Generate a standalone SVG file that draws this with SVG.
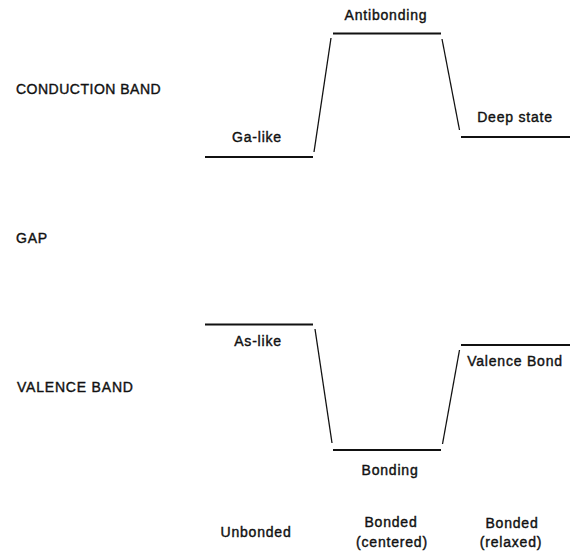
<svg xmlns="http://www.w3.org/2000/svg" width="573" height="553" viewBox="0 0 573 553">
<style>
text{font-family:"Liberation Sans",Arial,sans-serif;font-size:14px;fill:#111;stroke:#111;stroke-width:0.4;letter-spacing:0.8px}
.c{text-anchor:middle}
.lvl{stroke:#111;stroke-width:2;fill:none}
.con{stroke:#111;stroke-width:1.3;fill:none}
</style>
<rect width="573" height="553" fill="#fff"/>
<g id="band-labels">
<text x="16" y="94" style="letter-spacing:0.5px">CONDUCTION BAND</text>
<text x="16" y="243">GAP</text>
<text x="17" y="392">VALENCE BAND</text>
</g>
<g id="ga-like"><line class="lvl" x1="205" y1="157" x2="313" y2="157"/><text class="c" x="257" y="142">Ga-like</text></g>
<g id="antibonding"><line class="lvl" x1="333" y1="33.5" x2="441" y2="33.5"/><text class="c" x="386" y="20">Antibonding</text></g>
<g id="deep-state"><line class="lvl" x1="461" y1="137" x2="570" y2="137"/><text class="c" x="515" y="122">Deep state</text></g>
<g id="as-like"><line class="lvl" x1="205" y1="324.5" x2="313" y2="324.5"/><text class="c" x="258" y="346">As-like</text></g>
<g id="bonding"><line class="lvl" x1="333" y1="450" x2="441" y2="450"/><text class="c" x="390" y="475">Bonding</text></g>
<g id="valence-bond"><line class="lvl" x1="461" y1="345" x2="570" y2="345"/><text class="c" x="515" y="366">Valence Bond</text></g>
<g id="connectors">
<line class="con" x1="314" y1="152" x2="331" y2="38"/>
<line class="con" x1="442" y1="39" x2="459.5" y2="130"/>
<line class="con" x1="315" y1="329" x2="332" y2="443"/>
<line class="con" x1="442.5" y1="444" x2="459.5" y2="350"/>
</g>
<g id="column-labels">
<text class="c" x="256" y="537">Unbonded</text>
<text class="c" x="391" y="527">Bonded</text>
<text class="c" x="392" y="547">(centered)</text>
<text class="c" x="512" y="528">Bonded</text>
<text class="c" x="511" y="547">(relaxed)</text>
</g>
</svg>
